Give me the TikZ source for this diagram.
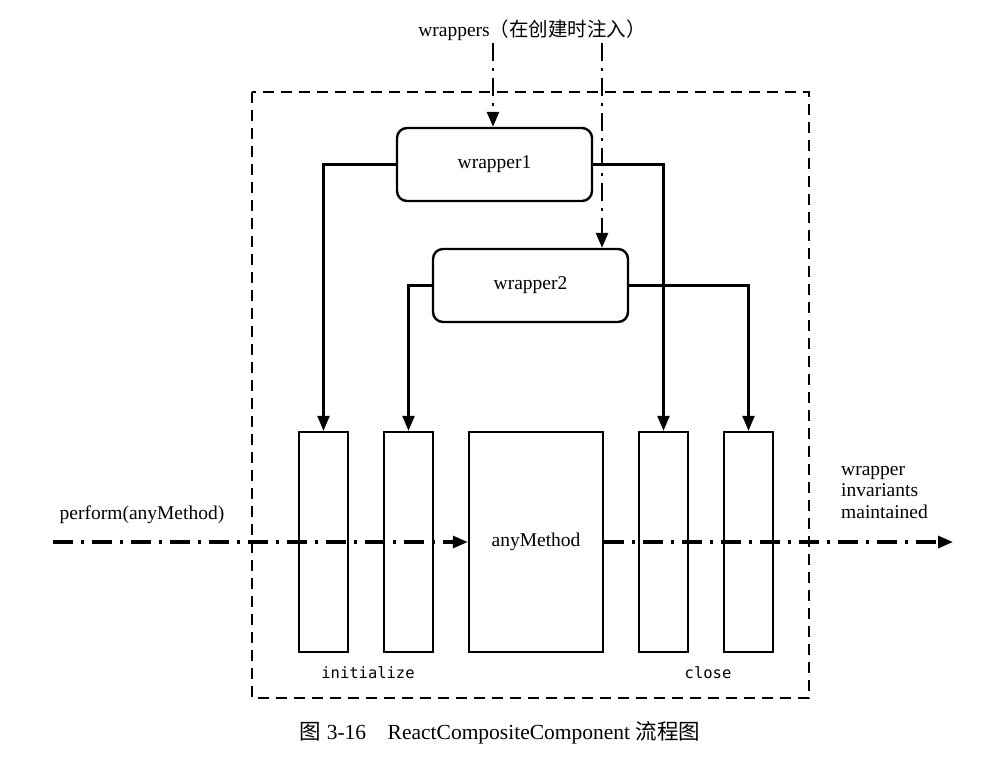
\documentclass[tikz,border=0pt]{standalone}
\usepackage{fontspec}
\setmainfont{Liberation Serif}
\newfontfamily\cjk{Noto Sans CJK SC}
\newfontfamily\codefont{DejaVu Sans Mono}
\usetikzlibrary{arrows.meta}
\begin{document}
\begin{tikzpicture}[x=1pt,y=-1pt,
  txt/.style={inner sep=0pt,font=\fontsize{19.5}{21.5}\selectfont},
  wrapbox/.style={draw,line width=2.4pt,rounded corners=10pt,minimum width=195pt,minimum height=73pt,inner sep=0pt,font=\fontsize{19.5}{21.5}\selectfont},
  bar/.style={draw,line width=2.4pt,minimum width=49pt,minimum height=220pt,inner sep=0pt},
  conn/.style={line width=2.4pt,-{Triangle[length=15pt,width=12pt]}},
  ddv/.style={line width=2.8pt,dash pattern=on 18pt off 7pt on 3pt off 7pt,-{Triangle[length=15pt,width=12pt]}},
  ddh/.style={line width=3.2pt,dash pattern=on 20pt off 8pt on 3pt off 8pt,-{Triangle[length=15pt,width=12pt]}},
  frame/.style={line width=2.6pt,dash pattern=on 11pt off 7pt},
  code/.style={inner sep=0pt,font=\codefont\fontsize{15.5}{18}\selectfont}]
\useasboundingbox (0,0) rectangle (1000,761);
\fill[white] (0,0) rectangle (1000,761);

% frame
\draw[frame] (252,92) rectangle (809,698);

% title
\node[txt] (top) at (532,30) {wrappers{\cjk （在创建时注入）}};

% wrappers
\node[wrapbox] (w1) at (494.5,164.5) {wrapper1};
\node[wrapbox] (w2) at (530.5,285.5) {wrapper2};

% bars
\node[bar] (b1) at (323.5,542) {};
\node[bar] (b2) at (408.5,542) {};
\node[bar,minimum width=134pt,font=\fontsize{19.5}{21.5}\selectfont] (am) at (536,542) {anyMethod};
\node[bar] (b4) at (663.5,542) {};
\node[bar] (b5) at (748.5,542) {};

% injection lines
\coordinate (t1) at (493,43);
\coordinate (t2) at (602,43);
\draw[ddv] (t1) -- (t1 |- w1.north);
\draw[ddv] (t2) -- (t2 |- w2.north);

% wrapper connectors
\draw[conn] (w1.west) -| (b1.north);
\draw[conn] (w1.east) -| (b4.north);
\draw[conn] (w2.west) -| (b2.north);
\draw[conn] (w2.east) -| (b5.north);

% main flow
\coordinate (s) at (53,542);
\coordinate (e) at (953,542);
\draw[ddh] (s) -- (am.west);
\draw[ddh] (am.east) -- (e);

% labels
\node[txt] (perf) at (142,515) {perform(anyMethod)};
\node[txt,anchor=north west,align=left] (inv) at (841,466) {wrapper\\invariants\\maintained};
\node[code] (init) at (368,673) {initialize};
\node[code] (cl) at (708,673) {close};

% caption
\node[inner sep=0pt,font=\fontsize{21.5}{24}\selectfont] (cap) at (500,733) {{\cjk 图} 3-16\quad ReactCompositeComponent {\cjk 流程图}};
\end{tikzpicture}
\end{document}
